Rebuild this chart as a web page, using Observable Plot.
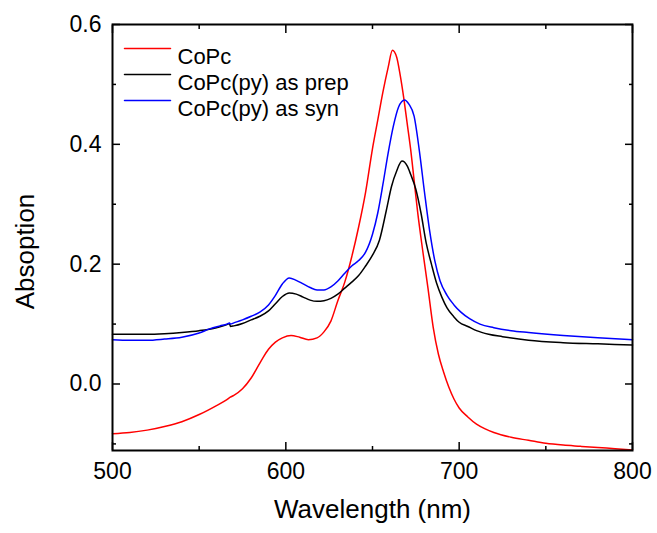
<!DOCTYPE html>
<html>
<head>
<meta charset="utf-8">
<script src="https://cdn.jsdelivr.net/npm/d3@7"></script>
<script src="https://cdn.jsdelivr.net/npm/@observablehq/plot@0.6"></script>
<style>
  html, body { margin: 0; padding: 0; background: white; }
</style>
</head>
<body>
<div id="chart"></div>
<script>
// ---- Data ----
const seriesNames = ["CoPc", "CoPc(py) as prep", "CoPc(py) as syn"];
const seriesColors = ["#ff0000", "#000000", "#0000ff"];

const redX = [500,510,520,530,540,550,560,566,568,570,575,580,586,590,594,598,603,608,613,618,622,626,630,634,638,642,646,650,653,656,659,661.5,664,666,668,670,672,674,676,679,682,685,688,691,694,697,700,705,710,715,720,730,740,750,760,770,780,790,800];
const redY = [-0.083,-0.081,-0.077,-0.071,-0.063,-0.051,-0.036,-0.026,-0.022,-0.019,-0.008,0.010,0.040,0.058,0.070,0.077,0.081,0.078,0.074,0.077,0.087,0.105,0.139,0.170,0.212,0.262,0.320,0.393,0.440,0.487,0.528,0.557,0.545,0.515,0.478,0.435,0.392,0.340,0.288,0.222,0.160,0.095,0.050,0.020,-0.005,-0.025,-0.040,-0.055,-0.067,-0.075,-0.081,-0.089,-0.094,-0.099,-0.102,-0.104,-0.106,-0.108,-0.110];

const blackX = [500,510,520,530,540,550,560,566,567.5,568,570,575,580,585,590,594,598,602,606,610,614,618,622,626,630,634,638,642,646,650,654,658,661,664,667,670,672,675,678,681,684,687,690,693,697,700,705,710,717,725,740,760,780,800];
const blackY = [0.083,0.083,0.083,0.084,0.086,0.089,0.094,0.099,0.101,0.096,0.097,0.101,0.107,0.113,0.122,0.134,0.146,0.152,0.150,0.145,0.140,0.138,0.139,0.143,0.150,0.160,0.170,0.181,0.197,0.215,0.240,0.290,0.330,0.356,0.372,0.364,0.350,0.325,0.285,0.235,0.200,0.168,0.145,0.127,0.112,0.103,0.096,0.089,0.083,0.079,0.073,0.069,0.067,0.065];

const blueX = [500,510,520,530,540,550,556,562,566,567.5,568,570,575,580,585,590,594,598,602,606,610,614,618,622,626,630,634,638,642,646,650,653,656,659,662,665,668.5,671,674,677,680,683,686,689,693,697,701,706,712,720,730,740,760,780,800];
const blueY = [0.074,0.073,0.073,0.075,0.078,0.085,0.092,0.097,0.100,0.102,0.100,0.102,0.107,0.113,0.120,0.132,0.148,0.167,0.177,0.173,0.167,0.161,0.157,0.157,0.162,0.172,0.185,0.197,0.206,0.220,0.250,0.285,0.333,0.385,0.430,0.462,0.474,0.467,0.447,0.390,0.320,0.255,0.205,0.172,0.148,0.132,0.120,0.109,0.100,0.094,0.089,0.086,0.081,0.077,0.074];

const xMajorTicks = [500, 600, 700, 800];
const xMinorTicks = [550, 650, 750];
const yMajorTicks = [0.0, 0.2, 0.4, 0.6];
const yMinorTicks = [-0.1, 0.1, 0.3, 0.5];
const xTitle = "Wavelength (nm)";
const yTitle = "Absoption";

// ---- Build tables ----
const seriesXs = [redX, blackX, blueX];
const seriesYs = [redY, blackY, blueY];
const rows = [];
seriesNames.forEach((name, s) => {
  seriesXs[s].forEach((x, i) => rows.push({series: name, x, y: seriesYs[s][i]}));
});

const font = "'Liberation Sans', Arial, Helvetica, sans-serif";
const emptyFmt = () => "";

const legendMarks = [];
seriesNames.forEach((name, i) => {
  legendMarks.push(Plot.vector([name], {
    frameAnchor: "top-left", dx: 12, dy: 24 + 26 * i,
    rotate: 90, length: 46, anchor: "start",
    stroke: seriesColors[i], strokeWidth: 1.5,
    shape: {draw(ctx, l) { ctx.moveTo(0, 0); ctx.lineTo(0, -l); }}
  }));
  legendMarks.push(Plot.text([name], {
    text: d => d, frameAnchor: "top-left", dx: 65, dy: 24 + 26 * i,
    textAnchor: "start", fontSize: 22, fill: "black"
  }));
});

const chart = Plot.plot({
  width: 657,
  height: 533,
  marginLeft: 112,
  marginRight: 25,
  marginTop: 24,
  marginBottom: 83,
  style: {fontFamily: font, background: "white", color: "black"},
  x: {domain: [500, 800]},
  y: {domain: [-0.111, 0.6]},
  color: {domain: seriesNames, range: seriesColors},
  marks: [
    // curves
    Plot.line(rows, {x: "x", y: "y", z: "series", stroke: d => d.series, strokeWidth: 1.5, curve: "monotone-x"}),
    // tick labels
    Plot.axisY({ticks: yMajorTicks, tickSize: 0, tickPadding: 11, tickFormat: ".1f", fontSize: 23, label: null}),
    Plot.axisX({ticks: xMajorTicks, tickSize: 0, tickPadding: 12, tickFormat: "d", fontSize: 23, label: null}),
    // inward major ticks
    Plot.axisY({ticks: yMajorTicks, tickSize: 8, dx: 8, strokeWidth: 1.5, tickFormat: emptyFmt, label: null}),
    Plot.axisY({anchor: "right", ticks: yMajorTicks, tickSize: 8, dx: -8, strokeWidth: 1.5, tickFormat: emptyFmt, label: null}),
    Plot.axisX({ticks: xMajorTicks, tickSize: 8, dy: -8, strokeWidth: 1.5, tickFormat: emptyFmt, label: null}),
    Plot.axisX({anchor: "top", ticks: xMajorTicks, tickSize: 8, dy: 8, strokeWidth: 1.5, tickFormat: emptyFmt, label: null}),
    // inward minor ticks
    Plot.axisY({ticks: yMinorTicks, tickSize: 4, dx: 4, strokeWidth: 1.5, tickFormat: emptyFmt, label: null}),
    Plot.axisY({anchor: "right", ticks: yMinorTicks, tickSize: 4, dx: -4, strokeWidth: 1.5, tickFormat: emptyFmt, label: null}),
    Plot.axisX({ticks: xMinorTicks, tickSize: 4, dy: -4, strokeWidth: 1.5, tickFormat: emptyFmt, label: null}),
    Plot.axisX({anchor: "top", ticks: xMinorTicks, tickSize: 4, dy: 4, strokeWidth: 1.5, tickFormat: emptyFmt, label: null}),
    // frame
    Plot.frame({stroke: "black", strokeWidth: 2}),
    // axis titles
    Plot.text([yTitle], {text: d => d, frameAnchor: "left", textAnchor: "middle", dx: -87, dy: 14, rotate: -90, fontSize: 26, fill: "black"}),
    Plot.text([xTitle], {text: d => d, frameAnchor: "bottom", dy: 67, fontSize: 26, fill: "black"}),
    // legend
    ...legendMarks
  ]
});

document.getElementById("chart").appendChild(chart);
</script>
</body>
</html>
